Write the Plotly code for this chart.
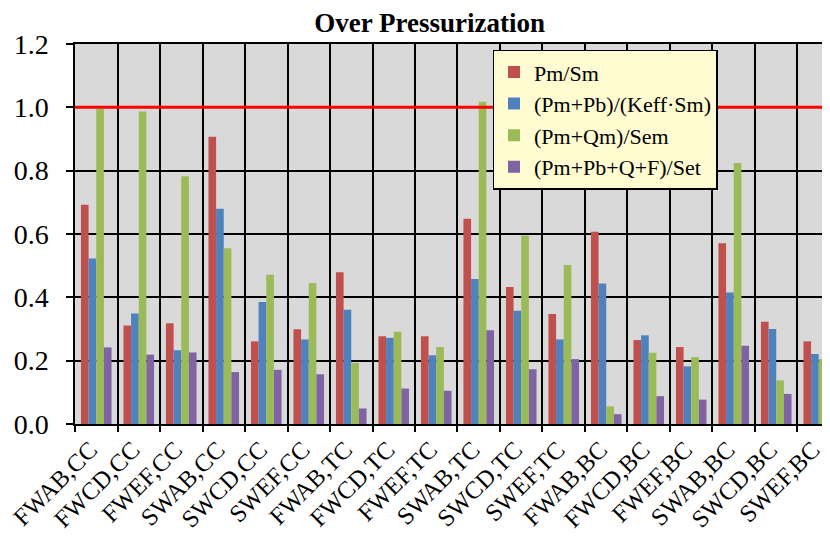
import plotly.graph_objects as go

categories = ["FWAB,CC", "FWCD,CC", "FWEF,CC", "SWAB,CC", "SWCD,CC", "SWEF,CC",
              "FWAB,TC", "FWCD,TC", "FWEF,TC", "SWAB,TC", "SWCD,TC", "SWEF,TC",
              "FWAB,BC", "FWCD,BC", "FWEF,BC", "SWAB,BC", "SWCD,BC", "SWEF,BC"]

pm_sm = [0.692, 0.311, 0.318, 0.907, 0.261, 0.299,
         0.479, 0.277, 0.277, 0.648, 0.433, 0.347,
         0.607, 0.265, 0.243, 0.571, 0.323, 0.261]
pm_pb_keff = [0.523, 0.349, 0.233, 0.680, 0.385, 0.267,
              0.361, 0.272, 0.217, 0.458, 0.358, 0.267,
              0.444, 0.280, 0.182, 0.415, 0.300, 0.221]
pm_qm_sem = [0.995, 0.987, 0.782, 0.555, 0.471, 0.445,
             0.193, 0.291, 0.243, 1.018, 0.595, 0.502,
             0.056, 0.225, 0.211, 0.824, 0.138, 0.205]
pm_pb_q_f_set = [0.242, 0.219, 0.226, 0.164, 0.171, 0.157,
                 0.049, 0.112, 0.105, 0.296, 0.173, 0.205,
                 0.031, 0.088, 0.077, 0.247, 0.095, 0.208]

series_names = ["Pm/Sm", "(Pm+Pb)/(Keff·Sm)", "(Pm+Qm)/Sem", "(Pm+Pb+Q+F)/Set"]
series_values = [pm_sm, pm_pb_keff, pm_qm_sem, pm_pb_q_f_set]
colors = ["#C0504D", "#4F81BD", "#9BBB59", "#8064A2"]

limit_value = 1.0

fig = go.Figure()
for i, (name, vals, col) in enumerate(zip(series_names, series_values, colors)):
    fig.add_trace(go.Bar(x=categories, y=vals, name=name, marker_color=col,
                         marker_line_width=0))

fig.add_shape(type="line", xref="paper", x0=0, x1=1, yref="y", y0=limit_value, y1=limit_value,
              line=dict(color="#FF0000", width=3), layer="above")

serif = "Liberation Serif"

fig.update_layout(
    width=822, height=528,
    margin=dict(l=67, r=0, t=36, b=112),
    paper_bgcolor="white",
    plot_bgcolor="#D9D9D9",
    barmode="group",
    bargap=0.28,
    bargroupgap=0,
    font=dict(family=serif, color="black"),
    title=dict(text="<b>Over Pressurization</b>", x=0.513, xanchor="center",
               y=0.973, yanchor="middle", yref="container",
               font=dict(family=serif, size=27, color="black")),
    legend=dict(x=0.553, y=0.985, xanchor="left", yanchor="top",
                bgcolor="#FFFCD2", bordercolor="black", borderwidth=1.5,
                font=dict(family=serif, size=22, color="black"),
                itemwidth=30),
    xaxis=dict(type="category", range=[-0.5, 17.265], tickson="boundaries",
               automargin=False,
               showgrid=True, gridcolor="black", gridwidth=1.5,
               showline=True, linecolor="black", linewidth=1.5, mirror=True,
               ticks="outside", ticklen=6, tickcolor="black", tickwidth=1.5,
               ticklabelshift=-6,
               tickangle=-45, tickfont=dict(family=serif, size=24.5, color="black")),
    yaxis=dict(range=[0, 1.2], dtick=0.2, tickformat=".1f", automargin=False,
               showgrid=True, gridcolor="black", gridwidth=1.5,
               showline=True, linecolor="black", linewidth=1.5,
               ticks="outside", ticklen=7, tickcolor="black", tickwidth=1.5,
               ticklabelstandoff=12, zeroline=False,
               tickfont=dict(family=serif, size=28, color="black")),
)

fig.write_html("out.html")
